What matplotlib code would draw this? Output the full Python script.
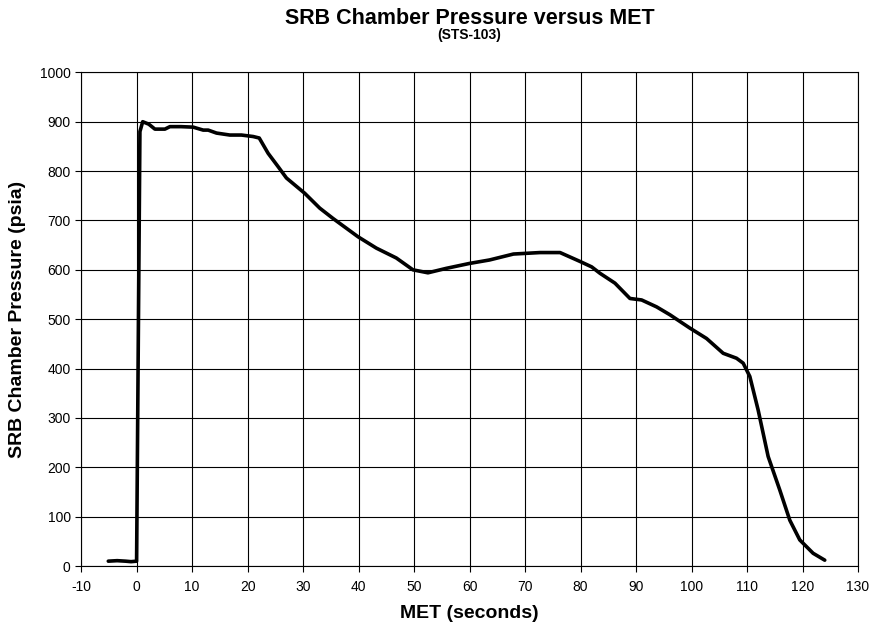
import matplotlib.pyplot as plt

# MET (s) and SRB chamber pressure (psia)
met = [-5.1, -3.5, -2.0, -1.0, 0.0, 0.6, 1.1, 2.2, 3.3, 5.1, 6.0, 8.0, 10.2,
       12.0, 12.9, 14.4, 16.8, 18.9, 21.0, 22.1, 23.7, 25.5, 27.0, 30.3,
       33.0, 35.4, 39.9, 43.2, 46.8, 49.8, 52.5, 55.8, 60.0, 63.6, 67.9,
       72.7, 76.3, 79.9, 82.0, 83.5, 86.2, 88.9, 91.0, 93.7, 96.1, 99.7,
       102.7, 105.7, 108.1, 109.3, 110.5, 112.0, 113.8, 115.9, 117.7, 119.5,
       121.9, 124.0]
pressure = [10, 11, 10, 9, 10, 880, 900, 895, 885, 885, 890, 890, 889,
            883, 883, 877, 873, 873, 870, 867, 836, 809, 786, 755,
            725, 704, 667, 644, 624, 600, 594, 603, 613, 620, 632,
            635, 635, 617, 606, 593, 573, 542, 539, 525, 509, 482,
            461, 431, 421, 411, 384, 316, 222, 154, 93, 53,
            26, 12]

x_ticks = list(range(-10, 131, 10))
y_ticks = list(range(0, 1001, 100))


def main():
    plt.rcParams['font.family'] = ['Liberation Sans', 'DejaVu Sans']
    plt.rcParams['axes.unicode_minus'] = False
    fig = plt.figure(figsize=(8.72, 6.29), dpi=100)
    ax = fig.add_axes([0.093, 0.100, 0.891, 0.785])

    ax.plot(met, pressure, color='black', linewidth=2.6,
            solid_joinstyle='round', solid_capstyle='round', zorder=3)

    ax.set_xlim(-10, 130)
    ax.set_ylim(0, 1000)
    ax.set_xticks(x_ticks)
    ax.set_yticks(y_ticks)
    ax.grid(True, color='black', linewidth=0.8)
    ax.tick_params(direction='out', length=4, width=0.8, labelsize=10, colors='black')
    ax.tick_params(axis='x', pad=6)
    for s in ax.spines.values():
        s.set_linewidth(0.8)

    ax.set_xlabel("MET (seconds)", fontsize=14, fontweight='bold', labelpad=8)
    ax.set_ylabel("SRB Chamber Pressure (psia)", fontsize=14, fontweight='bold', labelpad=10)

    cx = (0.093 + 0.984) / 2
    fig.text(cx, 0.971, "SRB Chamber Pressure versus MET", ha='center', va='center',
             fontsize=15.5, fontweight='bold')
    fig.text(cx, 0.944, "(STS-103)", ha='center', va='center',
             fontsize=10, fontweight='bold')

    fig.savefig("out.png", dpi=100)


if __name__ == "__main__":
    main()
